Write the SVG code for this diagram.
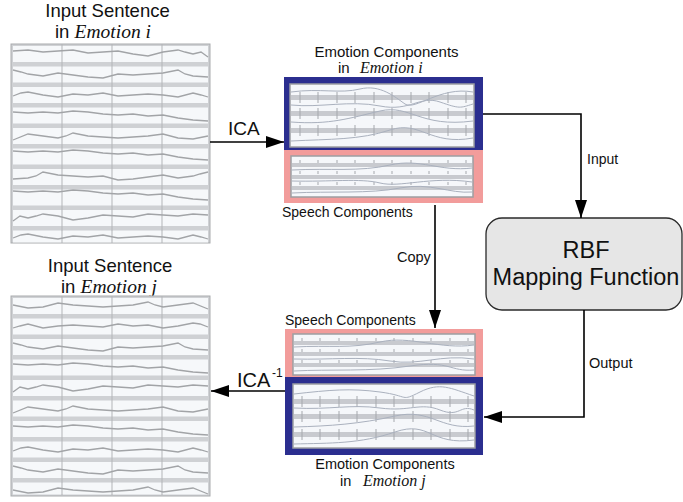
<svg xmlns="http://www.w3.org/2000/svg" xmlns:xlink="http://www.w3.org/1999/xlink" width="683" height="502" viewBox="0 0 683 502">
<style>
.sans{font-family:"Liberation Sans",Arial,sans-serif;fill:#111}
.ital{font-family:"Liberation Serif","Times New Roman",serif;font-style:italic;fill:#111}
.panel{fill:#cfd1d4;stroke:#a9abae;stroke-width:1}
.strip{fill:#f6f8fa}
.vline{stroke:#b3b5b8;stroke-width:1}
.wave{fill:none;stroke:#a2a4a7;stroke-width:1.3}
.inner{fill:#f5f7fa;stroke:#9c9ea2;stroke-width:1.5}
.band{fill:#c8cacf}
.tick{stroke:#a5a8ad;stroke-width:1}
.cwave{fill:none;stroke:#aab1be;stroke-width:1}
.blue{fill:#2b2e8f}
.pink{fill:#f29c9b}
.conn{fill:none;stroke:#000;stroke-width:1.6;marker-end:url(#arr)}
</style>
<defs>
<marker id="arr" markerUnits="userSpaceOnUse" markerWidth="18" markerHeight="12" refX="18" refY="6" orient="auto">
<path d="M0,0 L18,6 L0,12 z" fill="#000"/>
</marker>
<polyline id="w1" class="wave" points="0,-2 15,-3 30,-1 45,-2 60,-3 75,0 90,-1 105,-2 120,1 135,3 150,-1 165,-3 172,-1 180,1 188,-1 195,4"/>
<polyline id="w2" class="wave" points="0,-4 8,-2 15,0 30,2 45,-1 60,1 75,3 90,4 105,0 120,1 135,0 150,-1 165,-4 172,0 180,2 195,3"/>
<polyline id="w3" class="wave" points="0,1 8,-2 15,-3 30,0 45,2 60,-1 75,0 90,-2 105,1 120,0 135,-1 150,0 165,2 180,-2 188,0 195,2"/>
<polyline id="w4" class="wave" points="0,-3 15,-2 30,-3 45,-2 60,-4 75,-3 90,-1 105,0 120,-1 135,1 150,0 165,3 180,5 195,6"/>
<polyline id="w5" class="wave" points="0,0 15,3 30,2 45,-2 60,0 75,1 90,2 105,1 120,0 135,-3 142,0 150,2 165,0 180,-2 195,4"/>
<g id="strips">
<rect class="strip" x="2" y="2" width="195" height="16"/>
<rect class="strip" x="2" y="22.5" width="195" height="16"/>
<rect class="strip" x="2" y="43" width="195" height="16"/>
<rect class="strip" x="2" y="63.5" width="195" height="16"/>
<rect class="strip" x="2" y="84" width="195" height="16"/>
<rect class="strip" x="2" y="104.5" width="195" height="16"/>
<rect class="strip" x="2" y="125" width="195" height="16"/>
<rect class="strip" x="2" y="145.5" width="195" height="16"/>
<rect class="strip" x="2" y="166" width="195" height="16"/>
<line class="vline" x1="51" y1="0" x2="51" y2="199"/>
<line class="vline" x1="101" y1="0" x2="101" y2="199"/>
<line class="vline" x1="151" y1="0" x2="151" y2="199"/>
</g>
</defs>

<!-- Input sentence in Emotion i -->
<g id="input-i">
<text class="sans" x="107.5" y="17" font-size="18.5" text-anchor="middle">Input Sentence</text>
<text class="sans" x="55" y="37.5" font-size="18.5">in <tspan class="ital" font-size="19.5">Emotion i</tspan></text>
<rect class="panel" x="11" y="44" width="199" height="199"/>
<use href="#strips" x="11" y="44"/>
<rect class="strip" x="13" y="230.5" width="195" height="12"/>
<line class="vline" x1="62" y1="230" x2="62" y2="243"/>
<line class="vline" x1="112" y1="230" x2="112" y2="243"/>
<line class="vline" x1="162" y1="230" x2="162" y2="243"/>
<use href="#w1" x="13" y="53"/>
<use href="#w2" x="13" y="74"/>
<use href="#w3" x="13" y="95"/>
<use href="#w4" x="13" y="115"/>
<use href="#w5" transform="translate(208,136) scale(-1,1)"/>
<use href="#w4" x="13" y="154"/>
<use href="#w2" transform="translate(208,176) scale(-1,1)"/>
<use href="#w4" transform="translate(13,194)"/>
<use href="#w1" transform="translate(208,217) scale(-1,1)"/>
<use href="#w3" x="13" y="237"/>
</g>

<!-- Input sentence in Emotion j -->
<g id="input-j">
<text class="sans" x="110" y="272" font-size="18.5" text-anchor="middle">Input Sentence</text>
<text class="sans" x="61" y="293" font-size="18.5">in <tspan class="ital" font-size="19.5">Emotion j</tspan></text>
<rect class="panel" x="11" y="296" width="199" height="200"/>
<use href="#strips" x="11" y="296"/>
<rect class="strip" x="13" y="482.5" width="195" height="12"/>
<line class="vline" x1="62" y1="482" x2="62" y2="495"/>
<line class="vline" x1="112" y1="482" x2="112" y2="495"/>
<line class="vline" x1="162" y1="482" x2="162" y2="495"/>
<use href="#w5" x="13" y="305"/>
<use href="#w3" transform="translate(208,326) scale(-1,1)"/>
<use href="#w2" x="13" y="347"/>
<use href="#w4" x="13" y="367"/>
<use href="#w1" transform="translate(208,388) scale(-1,1)"/>
<use href="#w5" transform="translate(208,409) scale(-1,1)"/>
<use href="#w4" x="13" y="429"/>
<use href="#w3" x="13" y="450"/>
<use href="#w2" x="13" y="470"/>
<use href="#w5" x="13" y="490"/>
</g>

<!-- Emotion components in Emotion i -->
<g id="emotion-i">
<text class="sans" x="386.5" y="57" font-size="15" text-anchor="middle">Emotion Components</text>
<text class="sans" x="338" y="73" font-size="15">in</text>
<text class="ital" x="360" y="73" font-size="16">Emotion i</text>
<rect class="blue" x="284" y="77" width="199" height="73"/>
<rect class="inner" x="290" y="84" width="184" height="63"/>
<rect class="band" x="291" y="95" width="182" height="5"/>
<rect class="band" x="291" y="111" width="182" height="5"/>
<rect class="band" x="291" y="128" width="182" height="5"/>
<path class="tick" d="M300,92v11M318,92v11M337,92v11M355,92v11M374,92v11M392,92v11M411,92v11M429,92v11M448,92v11M466,92v11M300,108v11M318,108v11M337,108v11M355,108v11M374,108v11M392,108v11M411,108v11M429,108v11M448,108v11M466,108v11M300,125v11M318,125v11M337,125v11M355,125v11M374,125v11M392,125v11M411,125v11M429,125v11M448,125v11M466,125v11"/>
<path class="cwave" d="M291,92 C320,88 340,94 360,89 S395,97 405,104 S440,86 473,92"/>
<path class="cwave" d="M291,105 C320,108 350,100 380,106 S420,95 440,102 S460,108 473,104"/>
<path class="cwave" d="M291,122 C330,125 350,118 380,111 S420,128 473,121"/>
<path class="cwave" d="M291,141 C330,139 360,140 390,130 S430,146 473,138"/>
</g>

<!-- Speech components (top) -->
<g id="speech-i">
<rect class="pink" x="284" y="150" width="199" height="53"/>
<rect class="inner" x="291" y="156" width="182" height="41"/>
<rect class="band" x="292" y="163" width="180" height="4"/>
<rect class="band" x="292" y="175" width="180" height="4"/>
<rect class="band" x="292" y="186" width="180" height="4"/>
<path class="tick" d="M300,160v33M318,160v33M337,160v33M355,160v33M374,160v33M392,160v33M411,160v33M429,160v33M448,160v33M466,160v33" stroke-dasharray="3 8"/>
<path class="cwave" d="M292,170 C330,168 360,172 390,165 S440,172 472,168"/>
<path class="cwave" d="M292,181 C330,182 360,178 380,183 S430,176 472,182"/>
<path class="cwave" d="M292,193 C330,191 370,194 400,188 S450,194 472,192"/>
<text class="sans" x="282" y="217" font-size="14">Speech Components</text>
</g>

<!-- RBF mapping function -->
<g id="rbf">
<rect x="486" y="218" width="196" height="92" rx="16" ry="16" fill="#e6e6e6" stroke="#2a2a2a" stroke-width="1.3"/>
<text class="sans" x="586" y="258" font-size="23.5" text-anchor="middle">RBF</text>
<text class="sans" x="586" y="285" font-size="23.5" text-anchor="middle">Mapping Function</text>
</g>

<!-- Speech components (bottom) -->
<g id="speech-j">
<text class="sans" x="285" y="325" font-size="14">Speech Components</text>
<rect class="pink" x="285" y="329" width="198" height="49"/>
<rect class="inner" x="293" y="334" width="182" height="41"/>
<rect class="band" x="294" y="341" width="180" height="4"/>
<rect class="band" x="294" y="352" width="180" height="4"/>
<rect class="band" x="294" y="363" width="180" height="4"/>
<path class="tick" d="M302,338v33M320,338v33M339,338v33M357,338v33M376,338v33M394,338v33M413,338v33M431,338v33M450,338v33M468,338v33" stroke-dasharray="3 8"/>
<path class="cwave" d="M294,347 C330,345 350,349 380,342 S440,350 474,345"/>
<path class="cwave" d="M294,359 C330,360 360,356 390,361 S440,354 474,359"/>
<path class="cwave" d="M294,371 C330,369 370,372 410,366 S450,372 474,370"/>
</g>

<!-- Emotion components in Emotion j -->
<g id="emotion-j">
<rect class="blue" x="285" y="377" width="198" height="78"/>
<rect class="inner" x="293" y="384" width="182" height="64"/>
<rect class="band" x="294" y="399" width="180" height="5"/>
<rect class="band" x="294" y="414" width="180" height="5"/>
<rect class="band" x="294" y="432" width="180" height="5"/>
<path class="tick" d="M302,396v11M320,396v11M339,396v11M357,396v11M376,396v11M394,396v11M413,396v11M431,396v11M450,396v11M468,396v11M302,411v11M320,411v11M339,411v11M357,411v11M376,411v11M394,411v11M413,411v11M431,411v11M450,411v11M468,411v11M302,429v11M320,429v11M339,429v11M357,429v11M376,429v11M394,429v11M413,429v11M431,429v11M450,429v11M468,429v11"/>
<path class="cwave" d="M294,394 C330,390 350,388 380,392 S400,402 420,392 S450,388 474,396"/>
<path class="cwave" d="M294,408 C330,410 350,404 380,408 S420,402 440,410 S460,404 474,410"/>
<path class="cwave" d="M294,427 C330,426 360,424 395,416 S440,430 474,426"/>
<path class="cwave" d="M294,444 C330,443 360,444 395,432 S430,446 474,440"/>
<text class="sans" x="385" y="469" font-size="14.5" text-anchor="middle">Emotion Components</text>
<text class="sans" x="340" y="486" font-size="14.5">in</text>
<text class="ital" x="363" y="486" font-size="16">Emotion j</text>
</g>

<!-- Connectors -->
<g id="connectors">
<path class="conn" d="M210,142 H284"/>
<path class="conn" d="M285,391 H211"/>
<path class="conn" d="M483,114 H581 V218"/>
<path class="conn" d="M584,310 V417 H484"/>
<path class="conn" d="M435,205 V328"/>
<text class="sans" x="228" y="135" font-size="19">ICA</text>
<text class="sans" x="237" y="387" font-size="20">ICA</text>
<text class="sans" x="272" y="377" font-size="12">-1</text>
<text class="sans" x="587" y="164" font-size="14">Input</text>
<text class="sans" x="397" y="262" font-size="14.5">Copy</text>
<text class="sans" x="589" y="368" font-size="14.5">Output</text>
</g>
</svg>
